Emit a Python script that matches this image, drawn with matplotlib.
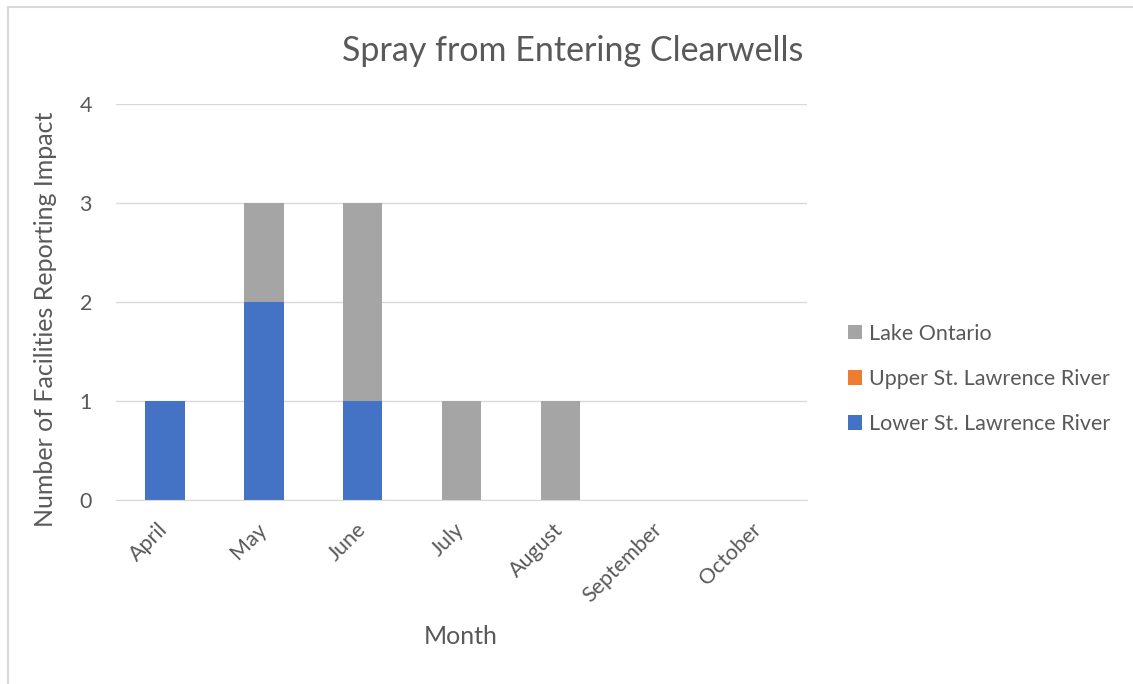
import matplotlib.pyplot as plt
import numpy as np
from matplotlib.lines import Line2D

months = ['April', 'May', 'June', 'July', 'August', 'September', 'October']
lower_stl = [1, 2, 1, 0, 0, 0, 0]
upper_stl = [0, 0, 0, 0, 0, 0, 0]
lake_ontario = [0, 1, 2, 1, 1, 0, 0]

plt.rcParams['font.family'] = ['Lato', 'DejaVu Sans']
txt = '#595959'

W, H = 1133, 684
fig = plt.figure(figsize=(W / 100, H / 100), dpi=100)
ax = fig.add_axes([115.5 / W, 1 - 500 / H, 692 / W, 396 / H])

x = np.arange(len(months))
bw = 0.4
b1 = ax.bar(x, lower_stl, bw, color='#4472C4', label='Lower St. Lawrence River')
bottom = np.array(lower_stl)
b2 = ax.bar(x, upper_stl, bw, bottom=bottom, color='#ED7D31', label='Upper St. Lawrence River')
bottom = bottom + np.array(upper_stl)
b3 = ax.bar(x, lake_ontario, bw, bottom=bottom, color='#A5A5A5', label='Lake Ontario')

ax.set_xlim(-0.5, len(months) - 0.5)
ax.set_ylim(0, 4)
ax.set_yticks([0, 1, 2, 3, 4])
ax.yaxis.grid(True, color='#D9D9D9', linewidth=1)
ax.set_axisbelow(True)
for s in ['top', 'right', 'left']:
    ax.spines[s].set_visible(False)
ax.spines['bottom'].set_color('#D9D9D9')
ax.tick_params(axis='y', length=0, pad=17, labelsize=15.5, labelcolor=txt)
ax.tick_params(axis='x', length=0, pad=19, labelsize=15.5, labelcolor=txt)
ax.set_xticks(x)
ax.set_xticklabels(months, rotation=45, ha='right', va='center', rotation_mode='anchor')

ax.set_ylabel('Number of Facilities Reporting Impact', fontsize=18, color=txt)
ax.yaxis.set_label_coords((57 - 115.5) / 692, (500 - 319) / 396)
fig.text(461 / W, 1 - 636 / H, 'Month', fontsize=18, color=txt, ha='center', va='center')
fig.text(573 / W, 1 - 51 / H, 'Spray from Entering Clearwells', fontsize=24.5, color=txt,
         ha='center', va='center')

# legend, reversed like Excel
leg = fig.legend([b3, b2, b1], ['Lake Ontario', 'Upper St. Lawrence River', 'Lower St. Lawrence River'],
                 loc='center left', bbox_to_anchor=(837 / W, 1 - 379 / H), frameon=False,
                 fontsize=15.5, labelspacing=1.17, handlelength=0.65, handleheight=0.65,
                 handletextpad=0.35, borderpad=0)
for t in leg.get_texts():
    t.set_color(txt)

# chart area border
fig.add_artist(Line2D([7.5 / W, 1], [1 - 6.5 / H, 1 - 6.5 / H], color='#D9D9D9', lw=1.5))
fig.add_artist(Line2D([7.5 / W, 7.5 / W], [0, 1 - 6.5 / H], color='#D9D9D9', lw=1.5))

fig.savefig('out.png', dpi=100)
